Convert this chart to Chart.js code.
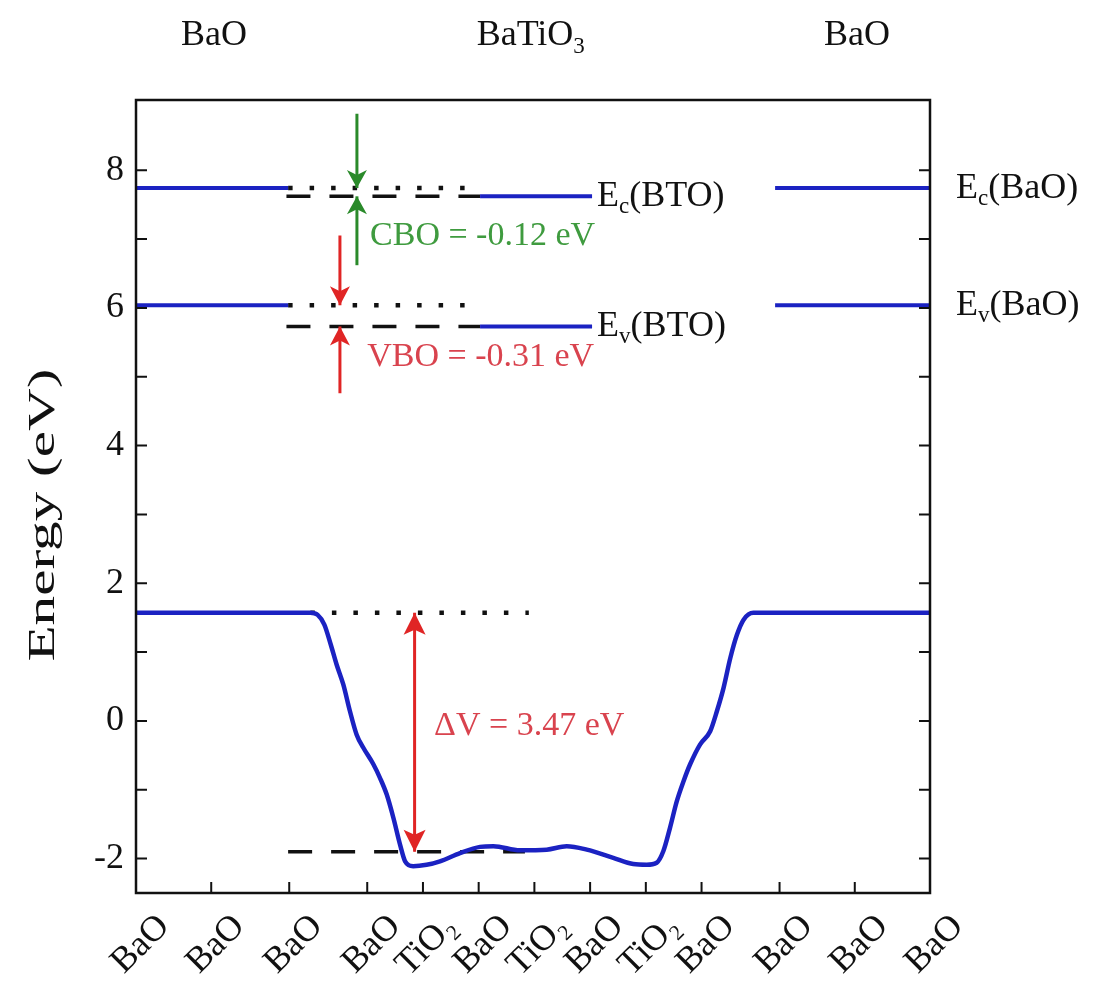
<!DOCTYPE html>
<html>
<head>
<meta charset="utf-8">
<script src="https://cdn.jsdelivr.net/npm/chart.js@4"></script>
<style>
  body { margin: 0; background: #fff; }
  #wrap { width: 1097px; height: 983px; }
</style>
</head>
<body>
<div id="wrap"><canvas id="band_chart"></canvas></div>
<script>
// layer positions along the slab (Angstrom) and their labels
const xTickPos = [0, 2.7, 5.5, 8.3, 10.3, 12.3, 14.3, 16.3, 18.3, 20.3, 23.1, 25.8, 28.5];
const xTickLabels = ["BaO", "BaO", "BaO", "BaO", "TiO₂", "BaO", "TiO₂", "BaO", "TiO₂", "BaO", "BaO", "BaO", "BaO"];
const yTicks = [-2, -1, 0, 1, 2, 3, 4, 5, 6, 7, 8];

// planar averaged potential (eV)
const potX = [0, 6.26, 6.52, 6.76, 6.99, 7.20, 7.44, 7.68, 7.92, 8.16, 8.52, 8.76, 9.00, 9.24, 9.48, 9.66, 9.95,
    10.43, 10.91, 11.63, 12.35, 12.83, 13.78, 14.74, 15.46, 16.18, 17.13, 17.85, 18.33, 18.69, 18.93, 19.17,
    19.41, 19.65, 19.89, 20.25, 20.61, 20.85, 21.09, 21.33, 21.57, 21.81, 22.16, 28.5];
const potY = [1.57, 1.57, 1.54, 1.40, 1.11, 0.82, 0.53, 0.14, -0.20, -0.39, -0.63, -0.83, -1.07, -1.41, -1.80, -2.04, -2.11,
    -2.09, -2.04, -1.92, -1.83, -1.82, -1.88, -1.87, -1.82, -1.87, -1.99, -2.08, -2.09, -2.06, -1.89, -1.55,
    -1.17, -0.88, -0.63, -0.34, -0.15, 0.14, 0.48, 0.91, 1.25, 1.47, 1.57, 1.57];

// band edges (eV)
const ecBaO = 7.74, evBaO = 6.04;
const ecBTO = 7.62, evBTO = 5.73;
const vBaO = 1.57, vBTO = -1.90;

// x extents of the level lines
const baoLeftX = [0, 5.46];
const baoRightX = [22.94, 28.5];
const btoSolidX = [12.35, 16.37];
const baoDotX = [5.46, 11.8];
const btoDashX = [5.40, 12.35];
const vDotX = [6.26, 14.1];
const vDashX = [5.46, 13.96];

// arrows: x position, start value
const cboX = 7.93, cboTopFrom = 8.82, cboBotFrom = 6.62;
const vboX = 7.32, vboTopFrom = 7.05, vboBotFrom = 4.76;
const dvX = 10.0;

const serif = "'Liberation Serif', 'DejaVu Serif', serif";
const blue = "#1b22c2";
const black = "#111";
const green = "#2a8a2a";
const red = "#e02525";

Chart.defaults.font.family = serif;

const seg = (xs, y) => xs.map(x => ({ x: x, y: y }));
const vert = (x, y0, y1) => [{ x: x, y: y0 }, { x: x, y: y1 }];

lineSet = (data, color, width, dash) => ({
    data: data,
    borderColor: color,
    borderWidth: width,
    borderDash: dash || [],
    borderCapStyle: "butt",
    pointRadius: 0,
    fill: false,
    tension: 0
});

const dotted = [4.5, 17];
const dashed = [24, 19];

const datasets = [
    lineSet(vert(cboX, cboTopFrom, ecBaO), green, 3),
    lineSet(vert(cboX, cboBotFrom, ecBTO), green, 3),
    lineSet(vert(vboX, vboTopFrom, evBaO), red, 3),
    lineSet(vert(vboX, vboBotFrom, evBTO), red, 3),
    lineSet(vert(dvX, vBaO, vBTO), red, 3),
    Object.assign(lineSet(potX.map((x, i) => ({ x: x, y: potY[i] })), blue, 4.5), { cubicInterpolationMode: "monotone" }),
    lineSet(seg(baoLeftX, ecBaO), blue, 4),
    lineSet(seg(baoLeftX, evBaO), blue, 4),
    lineSet(seg(baoRightX, ecBaO), blue, 4),
    lineSet(seg(baoRightX, evBaO), blue, 4),
    lineSet(seg(btoSolidX, ecBTO), blue, 4),
    lineSet(seg(btoSolidX, evBTO), blue, 4),
    lineSet(seg(baoDotX, ecBaO), black, 4.5, dotted),
    lineSet(seg(baoDotX, evBaO), black, 4.5, dotted),
    lineSet(seg(btoDashX, ecBTO), black, 3.5, dashed),
    lineSet(seg(btoDashX, evBTO), black, 3.5, dashed),
    lineSet(seg(vDotX, vBaO), black, 4.5, dotted),
    lineSet(seg(vDashX, vBTO), black, 3.5, dashed)
];

// arrow tips: x, y, direction (1 = pointing down), colour, half width, length
const arrowTips = [
    [cboX, ecBaO, 1, green, 10, 18],
    [cboX, ecBTO, -1, green, 10, 18],
    [vboX, evBaO, 1, red, 10, 19],
    [vboX, evBTO, -1, red, 10, 19],
    [dvX, vBaO, -1, red, 11, 22],
    [dvX, vBTO, 1, red, 11, 22]
];

drawSubText = (ctx, x, y, main, sub, rest, size) => {
    ctx.font = size + "px " + serif;
    ctx.fillText(main, x, y);
    x += ctx.measureText(main).width;
    ctx.font = Math.round(size * 0.65) + "px " + serif;
    ctx.fillText(sub, x, y + size * 0.3);
    x += ctx.measureText(sub).width;
    ctx.font = size + "px " + serif;
    if (rest) ctx.fillText(rest, x, y);
};

const decorPlugin = {
    id: "decor",
    afterDatasetsDraw(chart) {
        const ctx = chart.ctx;
        const xs = chart.scales.x, ys = chart.scales.y;
        ctx.save();
        arrowTips.forEach(t => {
            const px = xs.getPixelForValue(t[0]);
            const py = ys.getPixelForValue(t[1]);
            const d = t[2], w = t[4], l = t[5];
            ctx.fillStyle = t[3];
            ctx.beginPath();
            ctx.moveTo(px, py);
            ctx.lineTo(px - w, py - d * l);
            ctx.lineTo(px, py - d * (l - 5));
            ctx.lineTo(px + w, py - d * l);
            ctx.closePath();
            ctx.fill();
        });
        ctx.restore();
    },
    afterDraw(chart) {
        const ctx = chart.ctx, a = chart.chartArea;
        const xs = chart.scales.x, ys = chart.scales.y;
        ctx.save();
        // frame and inward ticks
        ctx.strokeStyle = black;
        ctx.lineWidth = 2.5;
        ctx.strokeRect(a.left, a.top, a.right - a.left, a.bottom - a.top);
        ctx.lineWidth = 2;
        ctx.beginPath();
        xTickPos.forEach(v => {
            const px = xs.getPixelForValue(v);
            ctx.moveTo(px, a.bottom);
            ctx.lineTo(px, a.bottom - 11);
        });
        yTicks.forEach(v => {
            const py = ys.getPixelForValue(v);
            ctx.moveTo(a.left, py);
            ctx.lineTo(a.left + 11, py);
            ctx.moveTo(a.right, py);
            ctx.lineTo(a.right - 11, py);
        });
        ctx.stroke();

        // annotations
        ctx.textBaseline = "middle";
        ctx.textAlign = "left";
        ctx.font = "34px " + serif;
        ctx.fillStyle = "#3f9b3f";
        ctx.fillText("CBO = -0.12 eV", xs.getPixelForValue(8.4), 236);
        ctx.fillStyle = "#d9434e";
        ctx.fillText("VBO = -0.31 eV", xs.getPixelForValue(8.3), 357);
        ctx.fillText("ΔV = 3.47 eV", xs.getPixelForValue(10.7), 726);

        ctx.fillStyle = black;
        drawSubText(ctx, xs.getPixelForValue(16.55), ys.getPixelForValue(ecBTO), "E", "c", "(BTO)", 36);
        drawSubText(ctx, xs.getPixelForValue(16.55), ys.getPixelForValue(evBTO), "E", "v", "(BTO)", 36);
        drawSubText(ctx, a.right + 26, ys.getPixelForValue(ecBaO), "E", "c", "(BaO)", 36);
        drawSubText(ctx, a.right + 26, ys.getPixelForValue(evBaO), "E", "v", "(BaO)", 36);

        // region labels on top
        ctx.font = "36px " + serif;
        ctx.textAlign = "center";
        ctx.fillText("BaO", 214, 36);
        ctx.fillText("BaO", 857, 36);
        ctx.textAlign = "left";
        const w = ctx.measureText("BaTiO").width;
        drawSubText(ctx, 531 - w / 2 - 6, 36, "BaTiO", "3", "", 36);

        // y axis title
        ctx.translate(54, 515);
        ctx.rotate(-Math.PI / 2);
        ctx.scale(1.6, 1);
        ctx.textAlign = "center";
        ctx.textBaseline = "alphabetic";
        ctx.font = "37px " + serif;
        ctx.fillText("Energy (eV)", 0, 0);
        ctx.restore();
    }
};

new Chart("band_chart", {
    type: "line",
    data: { datasets: datasets },
    options: {
        responsive: true,
        maintainAspectRatio: false,
        animation: false,
        layout: { padding: { left: 0, top: 100, right: 167, bottom: 0 } },
        plugins: { legend: { display: false }, tooltip: { enabled: false } },
        scales: {
            x: {
                type: "linear",
                min: 0,
                max: 28.5,
                grid: { display: false, drawTicks: false },
                border: { display: false },
                afterBuildTicks: s => { s.ticks = xTickPos.map(v => ({ value: v })); },
                afterFit: s => { s.height = 90; },
                ticks: {
                    autoSkip: false,
                    minRotation: 45,
                    maxRotation: 45,
                    padding: 13,
                    labelOffset: 28,
                    color: black,
                    font: { size: 36 },
                    callback: (v, i) => xTickLabels[i]
                }
            },
            y: {
                min: -2.5,
                max: 9.02,
                grid: { display: false, drawTicks: false },
                border: { display: false },
                afterBuildTicks: s => { s.ticks = yTicks.map(v => ({ value: v })); },
                afterFit: s => { s.width = 136; },
                ticks: {
                    padding: 12,
                    color: black,
                    font: { size: 36 },
                    callback: v => (v % 2 === 0 ? String(v) : "")
                }
            }
        }
    },
    plugins: [decorPlugin]
});
</script>
</body>
</html>
